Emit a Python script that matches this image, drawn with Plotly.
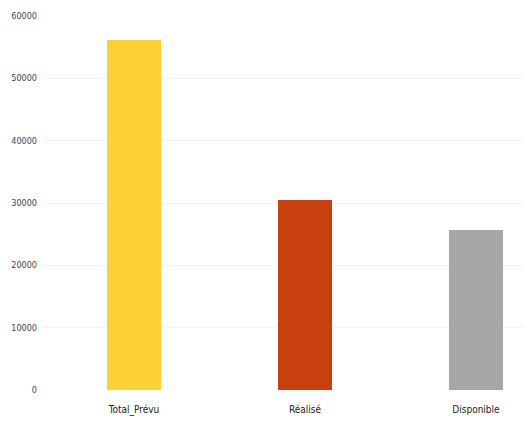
import plotly.graph_objects as go

categories = ["Total_Prévu", "Réalisé", "Disponible"]
values = [56200, 30500, 25700]
colors = ["#FDD135", "#C9400F", "#A7A7A7"]
tick_vals = [0, 10000, 20000, 30000, 40000, 50000, 60000]
tick_text = ["0", "10000", "20000", "30000", "40000", "50000", "60000"]

fig = go.Figure(go.Bar(
    x=categories, y=values, marker_color=colors, width=0.32,
    marker_line_width=0,
))

fig.update_layout(
    width=523, height=413,
    margin=dict(l=36, r=0, t=8, b=31),
    paper_bgcolor="white", plot_bgcolor="white",
    font=dict(family="Liberation Sans Narrow, DejaVu Sans Condensed, Arial Narrow, sans-serif", size=10, color="#333333"),
    showlegend=False,
    bargap=0,
)
fig.update_xaxes(range=[-0.526, 2.322], showgrid=False, showline=False, ticks="",
                 ticklabelstandoff=12,
                 tickfont=dict(size=10, color="#222222"))
fig.update_yaxes(range=[0, 60000], tickvals=tick_vals, ticktext=tick_text,
                 showgrid=True, gridcolor="#F2F2F2", gridwidth=1, zeroline=False,
                 showline=False, ticks="", ticklabelstandoff=6,
                 tickfont=dict(size=9, color="#444444"))

fig.write_html("out.html")
